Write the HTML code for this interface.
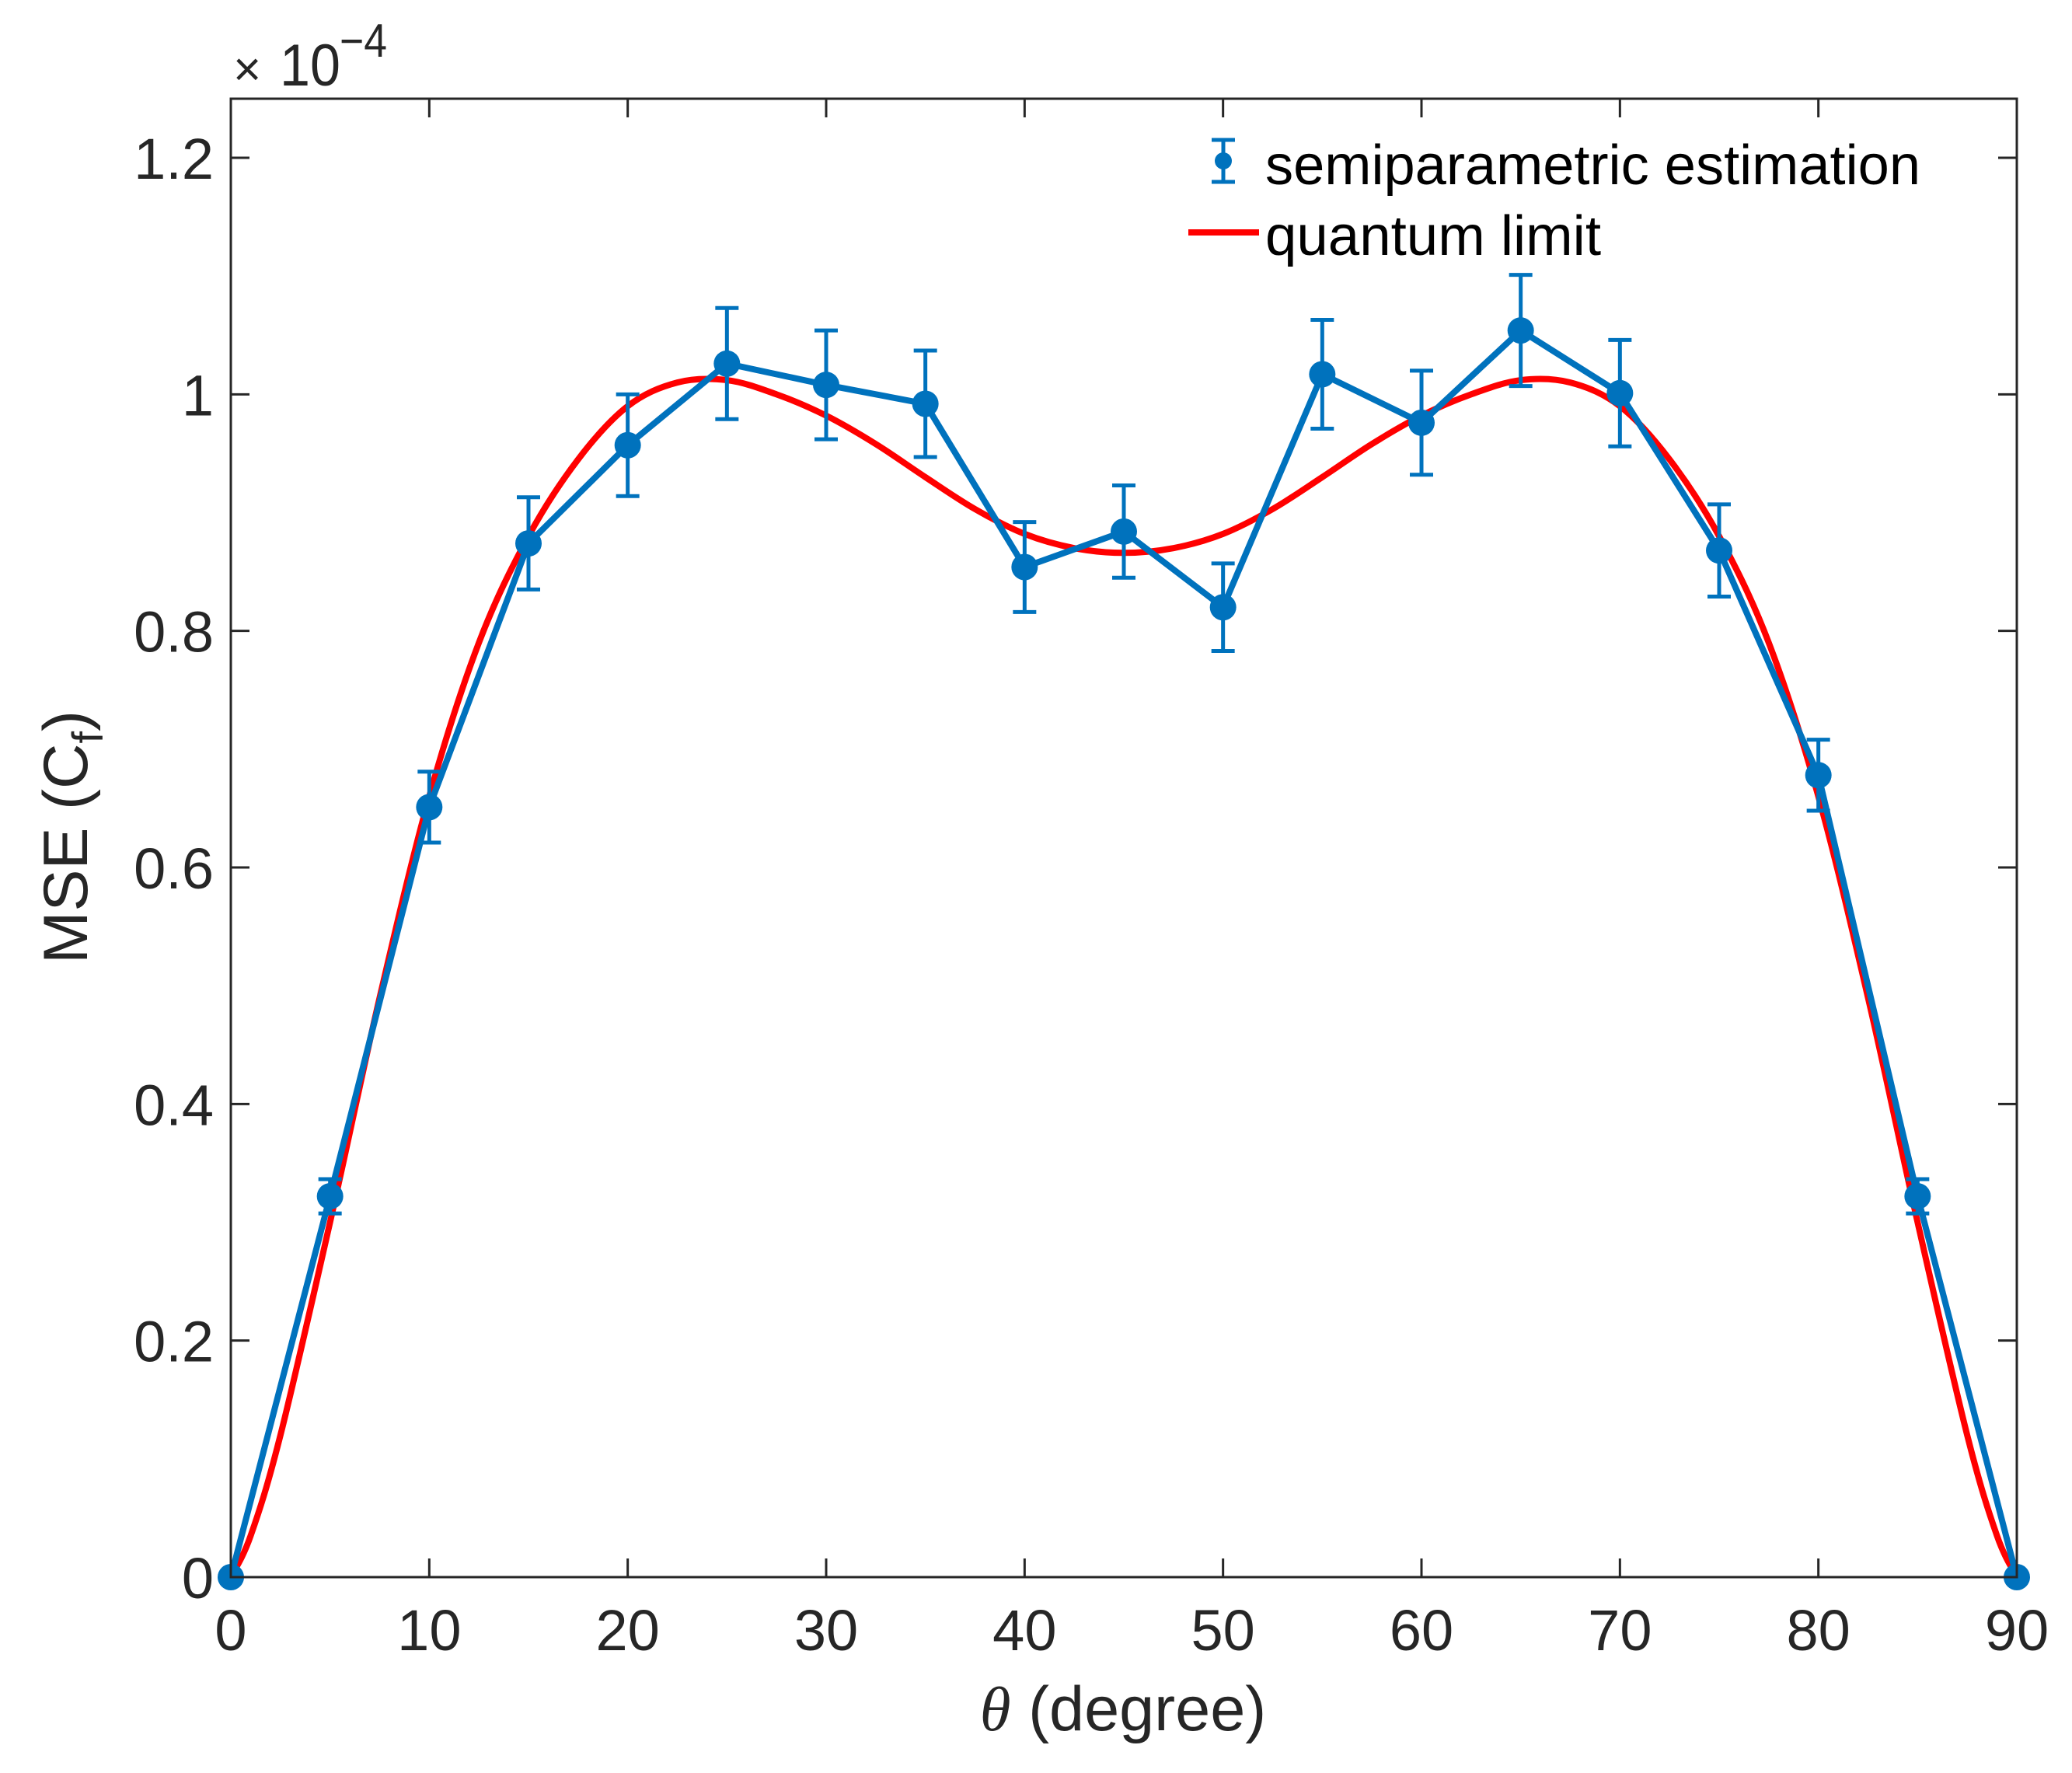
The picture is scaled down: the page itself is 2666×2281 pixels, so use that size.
<!DOCTYPE html>
<html><head><meta charset="utf-8"><style>
html,body{margin:0;padding:0;background:#fff;}
svg{display:block;font-family:"Liberation Sans",Arial,sans-serif;}
</style></head><body>
<svg id="chart" width="2666" height="2281" viewBox="0 0 2666 2281" xmlns="http://www.w3.org/2000/svg">
<rect width="2666" height="2281" fill="#fff"/>
<g id="plot"></g>
</svg>
<script>
const xTicks=[0,10,20,30,40,50,60,70,80,90];
const yTicks=[0,0.2,0.4,0.6,0.8,1,1.2];
const yTickLabels=["0","0.2","0.4","0.6","0.8","1","1.2"];
const estAngles=[0,5,10,15,20,25,30,35,40,45,50,55,60,65,70,75,80,85,90];
const estValues=[0,0.322,0.651,0.874,0.957,1.026,1.008,0.992,0.854,0.884,0.820,1.017,0.976,1.054,1.001,0.868,0.678,0.322,0];
const estErrors=[0,0.0145,0.03,0.039,0.043,0.047,0.046,0.045,0.038,0.039,0.037,0.046,0.044,0.047,0.045,0.039,0.03,0.0145,0];
const qlAngles=[0,1,2.5,5,7.5,10,12.5,15,17.5,20,22.5,25,27.5,30,32.5,35,37.5,40,42.5,45,47.5,50,52.5,55,57.5,60,62.5,65,67.5,70,72.5,75,77.5,80,82.5,85,87.5,89,90];
const qlValues=[0,0.035,0.12,0.30,0.49,0.66,0.79,0.88,0.945,0.99,1.01,1.012,1.0,0.982,0.958,0.930,0.903,0.882,0.870,0.866,0.870,0.882,0.903,0.930,0.958,0.982,1.0,1.012,1.01,0.99,0.945,0.88,0.79,0.66,0.49,0.30,0.12,0.035,0];

const X0=297,X1=2595,Y0=2029,YT=127,XMIN=0,XMAX=90,YMIN=0;
const Y12=203;
const ppu=(Y0-Y12)/1.2;
function sx(v){return X0+(v-XMIN)/(XMAX-XMIN)*(X1-X0);}
function sy(v){return Y0-(v-YMIN)*ppu;}
const NS="http://www.w3.org/2000/svg";
const g=document.getElementById('plot');
function mk(tag,attrs,parent){const e=document.createElementNS(NS,tag);for(const k in attrs)e.setAttribute(k,attrs[k]);(parent||g).appendChild(e);return e;}

const pts=qlAngles.map((a,i)=>[sx(a),sy(qlValues[i])]);
let d="M"+pts[0][0]+","+pts[0][1];
for(let i=0;i<pts.length-1;i++){
 const p0=pts[Math.max(0,i-1)],p1=pts[i],p2=pts[i+1],p3=pts[Math.min(pts.length-1,i+2)];
 const c1=[p1[0]+(p2[0]-p0[0])/6,p1[1]+(p2[1]-p0[1])/6];
 const c2=[p2[0]-(p3[0]-p1[0])/6,p2[1]-(p3[1]-p1[1])/6];
 d+=" C"+c1[0]+","+c1[1]+" "+c2[0]+","+c2[1]+" "+p2[0]+","+p2[1];
}
const red=mk('path',{d:d,fill:"none",stroke:"#FF0000","stroke-width":8,"stroke-linejoin":"round"});



const bl=mk('polyline',{points:estAngles.map((a,i)=>sx(a)+","+sy(estValues[i])).join(" "),fill:"none",stroke:"#0072BD","stroke-width":8,"stroke-linejoin":"round"});



estAngles.forEach((a,i)=>{
 const x=sx(a),e=estErrors[i];
 if(e>0){
  const eb=mk('path',{d:`M${x},${sy(estValues[i]-e)}V${sy(estValues[i]+e)}M${x-15},${sy(estValues[i]-e)}H${x+15}M${x-15},${sy(estValues[i]+e)}H${x+15}`,stroke:"#0072BD","stroke-width":5,fill:"none"});
  
  
 }
 const c=mk('circle',{cx:x,cy:sy(estValues[i]),r:17,fill:"#0072BD"});
 
 
});

const box=mk('rect',{x:X0,y:YT,width:X1-X0,height:Y0-YT,fill:"none",stroke:"#262626","stroke-width":3});



xTicks.forEach(t=>{
 const x=sx(t);
 const tk=mk('path',{d:`M${x},${Y0}V${Y0-24}M${x},${YT}V${YT+24}`,stroke:"#262626","stroke-width":3});
 
 
 const tl=mk('text',{x:x,y:2123,"text-anchor":"middle","font-size":74,fill:"#262626"});
 tl.textContent=String(t);
 
 
});
yTicks.forEach((t,i)=>{
 const y=sy(t);
 const tk=mk('path',{d:`M${X0},${y}H${X0+24}M${X1},${y}H${X1-24}`,stroke:"#262626","stroke-width":3});
 
 
 const tl=mk('text',{x:275,y:y+27,"text-anchor":"end","font-size":74,fill:"#262626"});
 tl.textContent=yTickLabels[i];
 
 
});

const s=document.getElementById('chart');
s.insertAdjacentHTML('beforeend',`
<g fill="#262626">
 <text x="300" y="110" font-size="62">×</text>
 <text x="360" y="110" font-size="76" textLength="78" lengthAdjust="spacingAndGlyphs">10</text>
 <text x="437" y="73" font-size="60" textLength="61" lengthAdjust="spacingAndGlyphs">−4</text>
</g>
<text x="1445" y="2226" text-anchor="middle" font-size="81" fill="#262626"><tspan font-family="Liberation Serif" font-style="italic">θ</tspan> (degree)</text>
<text transform="translate(112,1077) rotate(-90)" text-anchor="middle" font-size="81" fill="#262626">MSE (C<tspan font-size="56" dy="20">f</tspan><tspan dy="-20">)</tspan></text>
<g>
 <path d="M1574,180V234M1559,180H1589M1559,234H1589" stroke="#0072BD" stroke-width="5" fill="none"/>
 <circle cx="1574" cy="207" r="11" fill="#0072BD"/>
 <text x="1628" y="237" font-size="72" textLength="843" lengthAdjust="spacingAndGlyphs" fill="#000">semiparametric estimation</text>
 <line x1="1529" y1="299" x2="1620" y2="299" stroke="#FF0000" stroke-width="8"/>
 <text x="1628" y="328" font-size="72" textLength="432" lengthAdjust="spacingAndGlyphs" fill="#000">quantum limit</text>
</g>`);
</script>
</body></html>
